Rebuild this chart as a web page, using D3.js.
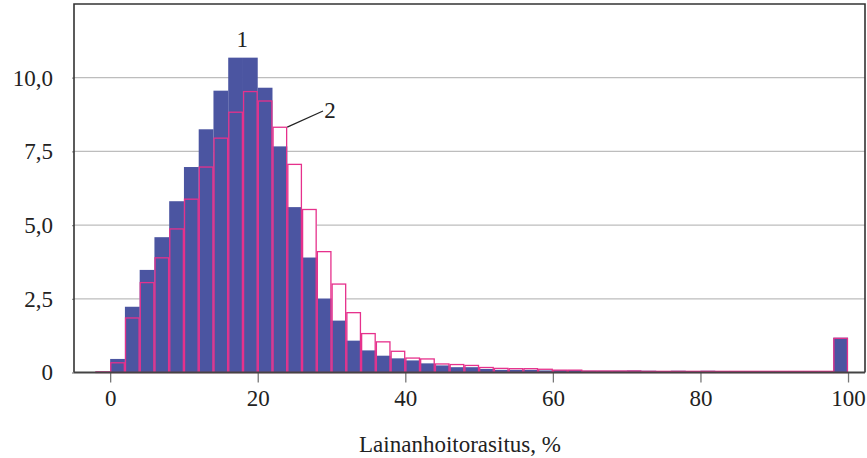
<!DOCTYPE html>
<html>
<head>
<meta charset="utf-8">
<script src="https://cdn.jsdelivr.net/npm/d3@7/dist/d3.min.js"></script>
<style>
  html, body { margin: 0; padding: 0; background: #fff; }
  svg { display: block; }
  text { font-family: "Liberation Serif", "Times New Roman", serif; fill: #222; }
</style>
</head>
<body>
<svg id="chart" width="867" height="458"></svg>
<script>
// Bin start values (each bin is 2 units wide)
const binStarts = d3.range(-2, 100, 2);
// Series 1 (filled blue)
const series1 = [0.03, 0.46, 2.23, 3.48, 4.59, 5.81, 6.97, 8.25, 9.56, 10.68,
  10.68, 9.66, 7.67, 5.61, 3.90, 2.51, 1.76, 1.08, 0.75, 0.57,
  0.48, 0.41, 0.31, 0.24, 0.18, 0.18, 0.12, 0.09, 0.09, 0.09,
  0.07, 0.08, 0.08, 0.06, 0.06, 0.06, 0.07, 0.06, 0.05, 0.06,
  0.05, 0.06, 0.05, 0.05, 0.05, 0.05, 0.05, 0.05, 0.05, 0.03, 1.18];
// Series 2 (pink outline)
const series2 = [0.04, 0.35, 1.87, 3.07, 3.91, 4.89, 5.90, 6.99, 7.97, 8.85,
  9.55, 9.23, 8.34, 7.08, 5.55, 4.12, 3.02, 2.05, 1.34, 1.06,
  0.74, 0.51, 0.48, 0.31, 0.29, 0.26, 0.19, 0.16, 0.15, 0.15,
  0.13, 0.10, 0.10, 0.07, 0.07, 0.07, 0.07, 0.06, 0.06, 0.06,
  0.06, 0.06, 0.06, 0.06, 0.06, 0.06, 0.06, 0.06, 0.06, 0.06, 1.18];
const xTicks = [0, 20, 40, 60, 80, 100];
const yTicks = [0, 2.5, 5, 7.5, 10];
const yTickLabels = ["0", "2,5", "5,0", "7,5", "10,0"];
const xLabel = "Lainanhoitorasitus, %";
const seriesLabels = ["1", "2"];

(function () {
const BIN = 2;
const svg = d3.select("#chart");
const mLeft = 74, mRight = 865, mTop = 4, mBottom = 372.5;

const x = d3.scaleLinear().domain([-4.9, 102.3]).range([mLeft, mRight]);
const y = d3.scaleLinear().domain([0, 12.5]).range([mBottom, mTop]);

const FS = 23;

// gridlines
svg.append("g").selectAll("line").data(yTicks.filter(d => d > 0)).join("line")
  .attr("x1", mLeft).attr("x2", mRight)
  .attr("y1", d => y(d)).attr("y2", d => y(d))
  .attr("stroke", "#bdbdbd").attr("stroke-width", 1.3);

const data2 = binStarts.map((b, i) => ({ b, v: series2[i] }));
const data1 = binStarts.map((b, i) => ({ b, v: series1[i] }));

// series 2 white fill (covers gridlines)
svg.append("g").selectAll("rect").data(data2).join("rect")
  .attr("x", d => x(d.b)).attr("width", d => x(d.b + BIN) - x(d.b))
  .attr("y", d => y(d.v)).attr("height", d => y(0) - y(d.v))
  .attr("fill", "#fff");

// series 1 blue bars
svg.append("g").selectAll("rect").data(data1).join("rect")
  .attr("x", d => x(d.b)).attr("width", d => x(d.b + BIN) - x(d.b))
  .attr("y", d => y(d.v)).attr("height", d => y(0) - y(d.v))
  .attr("fill", "#4b55a1");

// series 2 outlines
svg.append("g").selectAll("rect").data(data2).join("rect")
  .attr("x", d => x(d.b) + 0.6).attr("width", d => x(d.b + BIN) - x(d.b) - 1.2)
  .attr("y", d => y(d.v) + 0.6).attr("height", d => Math.max(0, y(0) - y(d.v) - 0.6))
  .attr("fill", "none").attr("stroke", "#e6318c").attr("stroke-width", 1.3);

// x axis
const xAxis = svg.append("g").attr("transform", `translate(0,${mBottom})`)
  .call(d3.axisBottom(x).tickValues(xTicks).tickFormat(d3.format("d")).tickSize(10).tickPadding(7));
xAxis.select(".domain").remove();
xAxis.selectAll(".tick line").attr("stroke", "#777").attr("stroke-width", 1.3);
xAxis.selectAll("text").style("font-size", FS + "px").attr("fill", "#222")
  .style("font-family", "'Liberation Serif', serif");

// y axis
const yAxis = svg.append("g").attr("transform", `translate(${mLeft},0)`)
  .call(d3.axisLeft(y).tickValues(yTicks).tickFormat((d, i) => yTickLabels[i]).tickSize(2).tickPadding(19));
yAxis.select(".domain").remove();
yAxis.selectAll(".tick line").attr("stroke", "#999").attr("stroke-width", 1.3);
yAxis.selectAll("text").style("font-size", FS + "px").attr("fill", "#222")
  .style("font-family", "'Liberation Serif', serif");

// frame
svg.append("path")
  .attr("d", `M${mLeft},${mBottom}V${mTop}H${mRight}V${mBottom}`)
  .attr("fill", "none").attr("stroke", "#333").attr("stroke-width", 1.6);
svg.append("line").attr("x1", mLeft).attr("x2", mRight).attr("y1", mBottom).attr("y2", mBottom)
  .attr("stroke", "#444").attr("stroke-width", 2);

// series labels
svg.append("text").attr("x", x(17.9)).attr("y", 47).attr("text-anchor", "middle")
  .style("font-size", FS + "px").text(seriesLabels[0]);
svg.append("text").attr("x", 330).attr("y", 118).attr("text-anchor", "middle")
  .style("font-size", FS + "px").text(seriesLabels[1]);
svg.append("line")
  .attr("x1", x(24)).attr("y1", y(series2[12]) + 0.5)
  .attr("x2", 323).attr("y2", 111)
  .attr("stroke", "#222").attr("stroke-width", 1.2);

// x label
svg.append("text").attr("x", 460).attr("y", 452).attr("text-anchor", "middle")
  .style("font-size", FS + "px").text(xLabel);
})();
</script>
</body>
</html>
